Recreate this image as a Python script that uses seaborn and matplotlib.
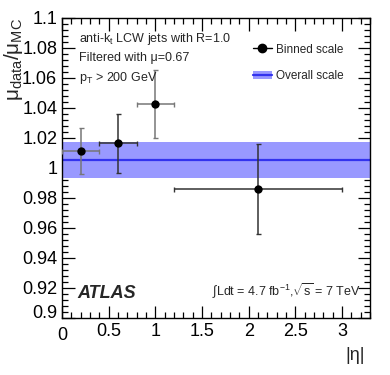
import numpy as np
import pandas as pd
import matplotlib
matplotlib.use("Agg")
import matplotlib.pyplot as plt
import matplotlib.transforms as mtrans
import seaborn as sns
from matplotlib.ticker import MultipleLocator
from matplotlib.lines import Line2D
from matplotlib.patches import Patch

# data
eta_center = [0.2, 0.6, 1.0, 2.1]
eta_xerr_lo = [0.2, 0.2, 0.2, 0.9]
eta_xerr_hi = [0.2, 0.2, 0.2, 0.9]
ratio = [1.0113, 1.0165, 1.0428, 0.9862]
ratio_err = [0.0152, 0.0195, 0.0225, 0.0300]
bar_colors = ["#777777", "#333333", "#777777", "#333333"]
overall = 1.0053
overall_err = 0.0121
x_ticks = [0, 0.5, 1, 1.5, 2, 2.5, 3]
x_tick_labels = ["0", "0.5", "1", "1.5", "2", "2.5", "3"]
y_ticks = [0.9, 0.92, 0.94, 0.96, 0.98, 1.0, 1.02, 1.04, 1.06, 1.08, 1.1]
y_tick_labels = ["0.9", "0.92", "0.94", "0.96", "0.98", "1", "1.02", "1.04", "1.06", "1.08", "1.1"]

sns.set_style("ticks")
plt.rcParams["font.family"] = ["Liberation Sans", "DejaVu Sans"]
plt.rcParams["mathtext.fontset"] = "custom"
plt.rcParams["mathtext.rm"] = "Liberation Sans"
plt.rcParams["mathtext.it"] = "Liberation Sans"

fig = plt.figure(figsize=(3.9, 3.75), dpi=100)
ax = fig.add_axes([62/390, 1-318/375, (370-62)/390, (318-18)/375])

xmin, xmax = 0, 3.3
ax.axhspan(overall - overall_err, overall + overall_err, color="#9999ff", lw=0, zorder=1)
ax.axhline(overall, color="#3333ee", lw=1.6, zorder=2)

df = pd.DataFrame({"eta": eta_center, "ratio": ratio})
for i in range(len(eta_center)):
    ax.errorbar(eta_center[i], ratio[i],
                xerr=[[eta_xerr_lo[i]], [eta_xerr_hi[i]]], yerr=[[ratio_err[i]], [ratio_err[i]]],
                fmt="none", ecolor=bar_colors[i], elinewidth=1.1, capsize=1.8, capthick=1.0, zorder=3)
sns.scatterplot(data=df, x="eta", y="ratio", color="black", s=36, edgecolor="black",
                linewidth=0, ax=ax, zorder=4, legend=False)

ax.set_xlim(xmin, xmax)
ax.set_ylim(0.9, 1.1)
ax.set_xticks(x_ticks)
ax.set_xticklabels(x_tick_labels)
ax.set_yticks(y_ticks)
ax.set_yticklabels(y_tick_labels)
ax.xaxis.set_minor_locator(MultipleLocator(0.1))
ax.yaxis.set_minor_locator(MultipleLocator(0.004))
ax.tick_params(which="both", direction="in", top=True, right=True, labelsize=13, colors="black")
ax.tick_params(which="major", length=9, width=0.9)
ax.tick_params(which="minor", length=4.5, width=0.9)
for s in ax.spines.values():
    s.set_linewidth(1.0)
    s.set_color("black")

# shift the lowest y label up and the first x label down, as in the reference
lbl_y = ax.get_yticklabels()[0]
lbl_y.set_transform(lbl_y.get_transform() + mtrans.ScaledTranslation(0, 6/100, fig.dpi_scale_trans))
lbl_x = ax.get_xticklabels()[0]
lbl_x.set_transform(lbl_x.get_transform() + mtrans.ScaledTranslation(0, -4/100, fig.dpi_scale_trans))

ax.set_xlabel("")
ax.set_ylabel("")
fig.text(365/390, 1-355/375, "|η|", fontsize=13, ha="right", va="center")
fig.text(14/390, 1-60/375, r"$\mu_{\mathrm{data}}/\mu_{\mathrm{MC}}$", fontsize=15, rotation=90,
         ha="center", va="center")

ax.text(0.055, 0.93, r"anti-k$_{\mathrm{t}}$ LCW jets with R=1.0", transform=ax.transAxes, fontsize=9, va="center")
ax.text(0.055, 0.865, "Filtered with μ=0.67", transform=ax.transAxes, fontsize=9, va="center")
ax.text(0.055, 0.80, r"p$_{\mathrm{T}}$ > 200 GeV", transform=ax.transAxes, fontsize=9, va="center")
ax.text(0.05, 0.08, "ATLAS", transform=ax.transAxes, fontsize=13, fontweight="bold", fontstyle="italic", va="center")
ax.text(0.97, 0.09, r"$\int$Ldt = 4.7 fb$^{-1}$,$\sqrt{\mathrm{s}}$ = 7 TeV", transform=ax.transAxes,
        fontsize=9, ha="right", va="center")

h1 = Line2D([], [], color="black", marker="o", markersize=6, lw=1.0)
h2 = (Patch(facecolor="#9999ff", edgecolor="none"), Line2D([], [], color="#3333ee", lw=1.6))
ax.legend([h1, h2], ["Binned scale", "Overall scale"], loc="upper right",
          bbox_to_anchor=(0.95, 0.95), frameon=False, fontsize=8.5, handlelength=1.6,
          labelspacing=1.2, handletextpad=0.4)

fig.savefig("out.png", dpi=100)
